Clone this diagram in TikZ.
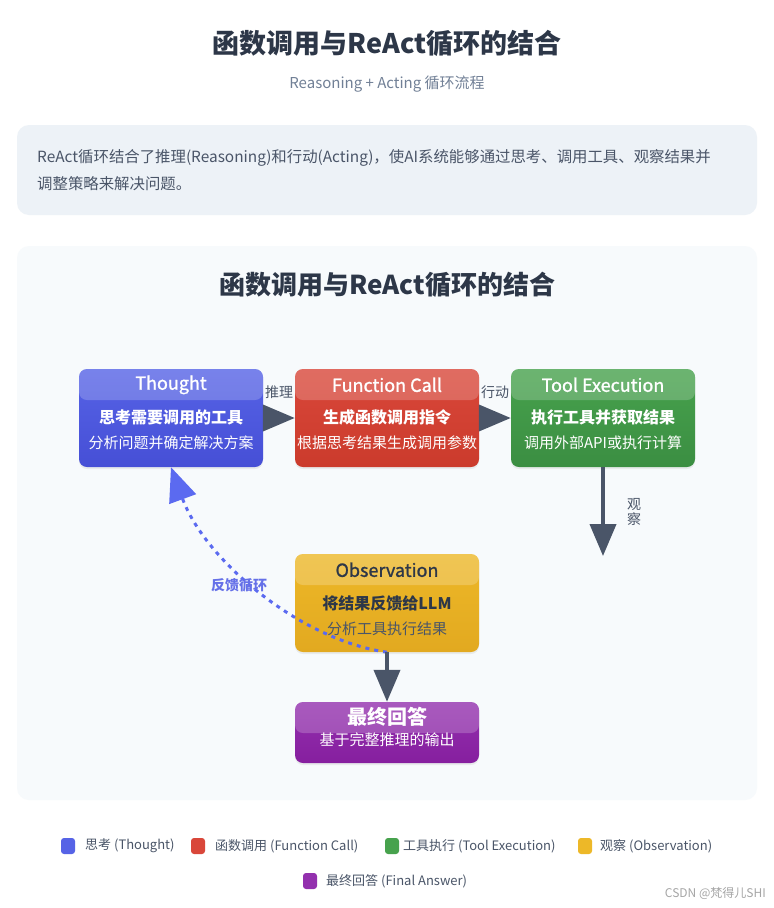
\documentclass[tikz,border=0pt]{standalone}
\usepackage{fontspec}
\setmainfont{Noto Sans CJK SC}
\newfontfamily\stagefont{Noto Sans CJK SC}[FakeBold=1.2]
\usetikzlibrary{arrows.meta,positioning,shadows}
\definecolor{inkDark}{HTML}{2D3748}
\definecolor{inkGray}{HTML}{4A5568}
\definecolor{subGray}{HTML}{718096}
\definecolor{panelA}{HTML}{EDF2F7}
\definecolor{panelB}{HTML}{F7FAFC}
\definecolor{thoughtTop}{HTML}{5663E6}
\definecolor{thoughtBot}{HTML}{464FD6}
\definecolor{callTop}{HTML}{D9473A}
\definecolor{callBot}{HTML}{CB3B2C}
\definecolor{toolTop}{HTML}{47A24D}
\definecolor{toolBot}{HTML}{3B8E42}
\definecolor{obsTop}{HTML}{EDB828}
\definecolor{obsBot}{HTML}{E2A920}
\definecolor{finalTop}{HTML}{9330AE}
\definecolor{finalBot}{HTML}{861F9F}
\definecolor{loopBlue}{HTML}{5B6AF0}
\definecolor{loopText}{HTML}{6570E8}

\tikzset{
  stage/.style={rectangle,rounded corners=8pt,minimum width=184pt,inner sep=0pt,
    drop shadow={shadow xshift=0pt,shadow yshift=-2pt,opacity=.12},
    path picture={\fill[white,fill opacity=.2] (path picture bounding box.north west)
      rectangle ([yshift=-31pt]path picture bounding box.north east);}},
  stagetitle/.style={font=\stagefont\fontsize{18}{21}\selectfont,text=white,inner sep=0pt},
  stagemain/.style={font=\bfseries\fontsize{16}{19}\selectfont,text=white,inner sep=0pt},
  stagesub/.style={font=\fontsize{15}{18}\selectfont,text=white,inner sep=0pt},
  flow/.style={draw=inkGray,line width=4pt,-{Triangle[length=32pt,width=26pt]}},
  feedback/.style={draw=loopBlue,line width=3pt,dash pattern=on 4pt off 5pt,
    -{Triangle[length=34pt,width=28pt]}},
  flowlabel/.style={font=\fontsize{14}{16}\selectfont,text=inkGray,inner sep=0pt},
  legmark/.style={rectangle,rounded corners=3pt,minimum width=14pt,minimum height=16pt,inner sep=0pt},
  legtext/.style={font=\fontsize{13}{15}\selectfont,text=inkGray,inner sep=0pt},
}

\begin{document}
\begin{tikzpicture}[x=1pt,y=-1pt]
  \useasboundingbox[fill=white] (0,0) rectangle (774,908);
  % page header
  \node[font=\bfseries\fontsize{27}{30}\selectfont,text=inkDark] (pageTitle) at (387,43) {函数调用与ReAct循环的结合};
  \node[font=\fontsize{15}{18}\selectfont,text=subGray] (pageSub) at (387,84) {Reasoning + Acting 循环流程};
  % intro panel
  \fill[panelA,rounded corners=12pt] (17,125) rectangle (757,215);
  \node[anchor=west,font=\fontsize{15.4}{18}\selectfont,text=inkGray,inner sep=0pt] (introA) at (37,158)
    {ReAct循环结合了推理(Reasoning)和行动(Acting)，使AI系统能够通过思考、调用工具、观察结果并};
  \node[anchor=west,font=\fontsize{15.4}{18}\selectfont,text=inkGray,inner sep=0pt] (introB) at (37,184)
    {调整策略来解决问题。};
  % diagram panel
  \fill[panelB,rounded corners=12pt] (17,246) rectangle (757,800);
  \node[font=\bfseries\fontsize{26}{29}\selectfont,text=inkDark] (diagTitle) at (387,285) {函数调用与ReAct循环的结合};

  % stages
  \node[stage,minimum height=98pt,top color=thoughtTop,bottom color=thoughtBot] (thought) at (171,418) {};
  \node[stagetitle] (thoughtTitle) at ([yshift=-16pt]thought.north) {Thought};
  \node[stagemain] (thoughtMain) at ([yshift=-49pt]thought.north) {思考需要调用的工具};
  \node[stagesub] (thoughtSub) at ([yshift=-74pt]thought.north) {分析问题并确定解决方案};

  \node[stage,minimum height=98pt,top color=callTop,bottom color=callBot] (fcall) at (387,418) {};
  \node[stagetitle] (fcallTitle) at ([yshift=-16pt]fcall.north) {Function Call};
  \node[stagemain] (fcallMain) at ([yshift=-49pt]fcall.north) {生成函数调用指令};
  \node[stagesub] (fcallSub) at ([yshift=-74pt]fcall.north) {根据思考结果生成调用参数};

  \node[stage,minimum height=98pt,top color=toolTop,bottom color=toolBot] (toolexec) at (603,418) {};
  \node[stagetitle] (toolTitle) at ([yshift=-16pt]toolexec.north) {Tool Execution};
  \node[stagemain] (toolMain) at ([yshift=-49pt]toolexec.north) {执行工具并获取结果};
  \node[stagesub] (toolSub) at ([yshift=-74pt]toolexec.north) {调用外部API或执行计算};

  \node[stage,minimum height=98pt,top color=obsTop,bottom color=obsBot] (observation) at (387,603) {};
  \node[stagetitle,text=inkDark] (obsTitle) at ([yshift=-16pt]observation.north) {Observation};
  \node[stagemain,text=inkDark] (obsMain) at ([yshift=-50pt]observation.north) {将结果反馈给LLM};
  \node[stagesub,text=inkGray] (obsSub) at ([yshift=-75pt]observation.north) {分析工具执行结果};

  \node[stage,minimum height=61pt,top color=finalTop,bottom color=finalBot] (final) at (387,732.5) {};
  \node[stagetitle,font=\bfseries\fontsize{20}{22}\selectfont] (finalTitle) at ([yshift=-15pt]final.north) {最终回答};
  \node[stagesub] (finalSub) at ([yshift=-38pt]final.north) {基于完整推理的输出};

  % connectors
  \coordinate (obsArrowEnd) at (603,556);
  \draw[flow] (thought.east) -- (fcall.west) node[flowlabel,midway,above=17pt] (lblReason) {推理};
  \draw[flow] (fcall.east) -- (toolexec.west) node[flowlabel,midway,above=17pt] (lblAct) {行动};
  \draw[flow] (toolexec.south) -- (obsArrowEnd);
  \node[flowlabel,align=center,font=\fontsize{14}{15}\selectfont] (lblObserve) at (634,512) {观\\察};
  \draw[feedback] (observation.south) .. controls (300,640) and (205,560) .. (thought.south);
  \node[font=\bfseries\fontsize{14}{16}\selectfont,text=loopText,inner sep=0pt] (lblLoop) at (239,585) {反馈循环};
  \draw[flow] (observation.south) -- (final.north);

  % legend
  \node[legmark,fill=thoughtTop] (legThought) at (68,846) {};
  \node[legtext,anchor=west] (legThoughtTxt) at (85,846) {思考 (Thought)};
  \node[legmark,fill=callTop] (legCall) at (198,846) {};
  \node[legtext,anchor=west] (legCallTxt) at (215,846) {函数调用 (Function Call)};
  \node[legmark,fill=toolTop] (legTool) at (392,846) {};
  \node[legtext,anchor=west] (legToolTxt) at (403,846) {工具执行 (Tool Execution)};
  \node[legmark,fill=obsTop] (legObs) at (585,846) {};
  \node[legtext,anchor=west] (legObsTxt) at (600,846) {观察 (Observation)};
  \node[legmark,fill=finalTop] (legFinal) at (310,881) {};
  \node[legtext,anchor=west] (legFinalTxt) at (326,881) {最终回答 (Final Answer)};
  \node[font=\fontsize{12}{14}\selectfont,text=black!35,anchor=east,inner sep=0pt] (watermark) at (766,893) {CSDN @梵得儿SHI};
\end{tikzpicture}
\end{document}
